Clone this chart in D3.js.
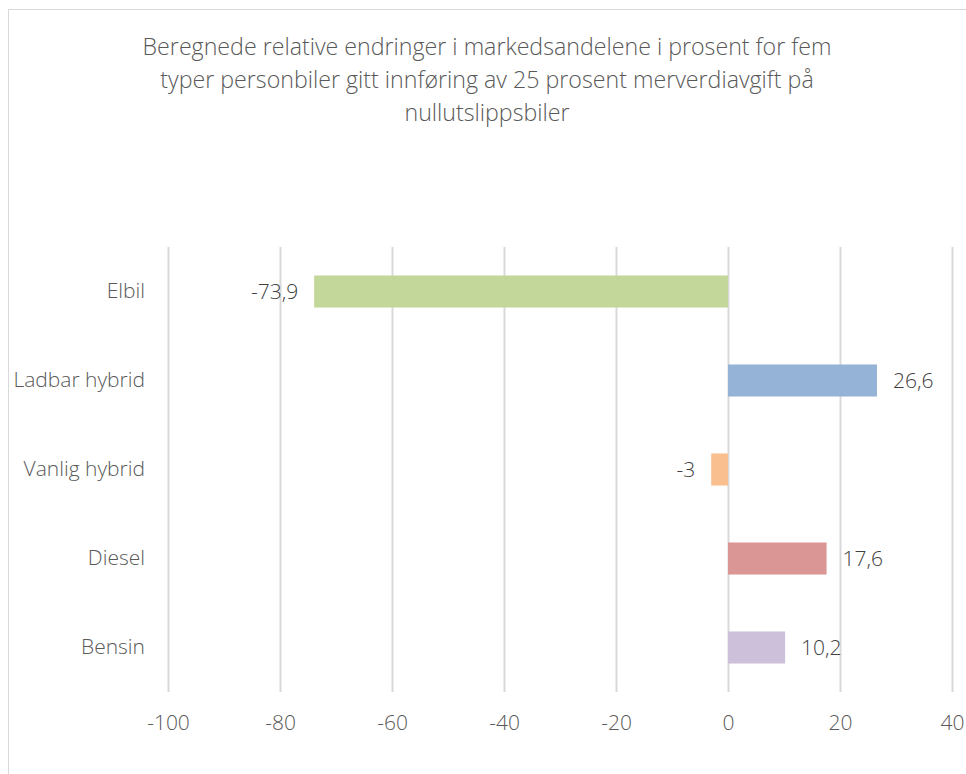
<!DOCTYPE html>
<html>
<head>
<meta charset="utf-8">
<script src="https://cdn.jsdelivr.net/npm/d3@7"></script>
<style>
  body { margin: 0; background: #fff; }
  svg { font-family: "Open Sans", Lato, sans-serif; font-weight: 300; }
</style>
</head>
<body>
<svg width="966" height="774"></svg>
<script>
const categories = ['Elbil', 'Ladbar hybrid', 'Vanlig hybrid', 'Diesel', 'Bensin'];
const values = [-73.9, 26.6, -3, 17.6, 10.2];
const colors = ['#c4d79b', '#95b3d7', '#fabf8f', '#da9694', '#ccc0da'];
const xTicks = [-100, -80, -60, -40, -20, 0, 20, 40];
const titleLines = [
  'Beregnede relative endringer i markedsandelene i prosent for fem',
  'typer personbiler gitt innføring av 25 prosent merverdiavgift på',
  'nullutslippsbiler'
];

const data = categories.map((c, i) => ({name: c, value: values[i], color: colors[i]}));

const svg = d3.select('svg'),
      margin = {top: 247, right: 14, bottom: 82, left: 168},
      width = +svg.attr('width') - margin.left - margin.right,
      height = +svg.attr('height') - margin.top - margin.bottom;

// chart frame
svg.append('rect')
  .attr('x', 8.5).attr('y', 9.5)
  .attr('width', 966).attr('height', 780)
  .attr('fill', 'none')
  .attr('stroke', '#d9d9d9');

// title
svg.append('text')
  .attr('x', 487)
  .attr('y', 55)
  .attr('text-anchor', 'middle')
  .attr('fill', '#595959')
  .style('font-size', '23.2px')
  .selectAll('tspan')
  .data(titleLines)
  .enter().append('tspan')
    .attr('x', 487)
    .attr('dy', (d, i) => i === 0 ? 0 : 33)
    .text(d => d);

const g = svg.append('g').attr('transform', `translate(${margin.left}, ${margin.top})`);

const x = d3.scaleLinear()
  .domain([-100, 40])
  .range([0, 784]);

const y = d3.scaleBand()
  .domain(categories)
  .range([0, height])
  .paddingInner(0.64)
  .paddingOuter(0.32);

const labelFont = '"Open Sans", Lato, sans-serif';

// gridlines
g.append('g')
  .call(d3.axisBottom(x).tickValues(xTicks).tickSize(height).tickFormat(''))
  .call(a => a.select('.domain').remove())
  .call(a => a.selectAll('line').attr('stroke', '#d9d9d9').attr('stroke-width', 2));

// x tick labels
g.append('g')
  .attr('transform', `translate(0, ${height})`)
  .call(d3.axisBottom(x).tickValues(xTicks).tickSize(0).tickPadding(23).tickFormat(d => d))
  .call(a => a.select('.domain').remove())
  .call(a => a.selectAll('text')
    .attr('fill', '#595959')
    .style('font-size', '21px')
    .style('font-family', labelFont));

// category labels
g.append('g')
  .call(d3.axisLeft(y).tickSize(0).tickPadding(23))
  .call(a => a.select('.domain').remove())
  .call(a => a.selectAll('text')
    .attr('fill', '#595959')
    .style('font-size', '21px')
    .style('font-family', labelFont));

// bars
g.append('g').selectAll('rect')
  .data(data)
  .enter().append('rect')
    .attr('x', d => x(Math.min(0, d.value)))
    .attr('y', d => y(d.name))
    .attr('width', d => Math.abs(x(d.value) - x(0)))
    .attr('height', y.bandwidth())
    .attr('fill', d => d.color);

// value labels
g.append('g').selectAll('text')
  .data(data)
  .enter().append('text')
    .attr('x', d => x(d.value) + (d.value < 0 ? -16 : 16))
    .attr('y', d => y(d.name) + y.bandwidth() / 2)
    .attr('dy', '0.35em')
    .attr('text-anchor', d => d.value < 0 ? 'end' : 'start')
    .attr('fill', '#404040')
    .style('font-size', '21px')
    .text(d => String(d.value).replace('.', ','));
</script>
</body>
</html>
